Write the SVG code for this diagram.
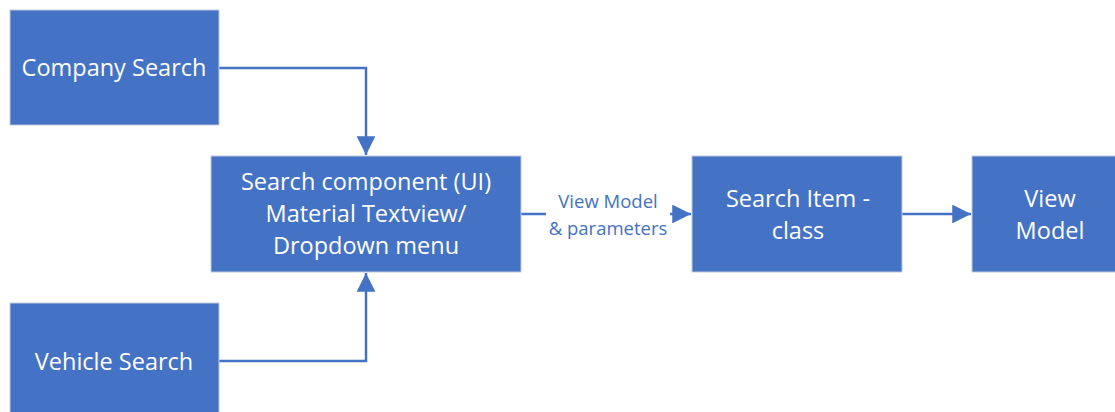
<svg xmlns="http://www.w3.org/2000/svg" width="1115" height="412" viewBox="0 0 1115 412">
  <style>
    .box { fill: #4472C4; stroke: #BFC9DC; stroke-width: 1; }
    .txt { fill: #FFFFFF; font-family: "Open Sans", "Noto Sans", sans-serif; font-size: 23.5px; text-anchor: middle; }
    .lbl { fill: #4472C4; font-family: "Open Sans", "Noto Sans", sans-serif; font-size: 18.5px; text-anchor: middle; }
    .wire { fill: none; stroke: #4472C4; stroke-width: 2.5; }
  </style>
  <defs>
    <marker id="arrow" viewBox="0 0 10 10" refX="10" refY="5" markerWidth="7.5" markerHeight="7.5" markerUnits="strokeWidth" orient="auto">
      <path d="M0,0 L10,5 L0,10 Z" fill="#4472C4"/>
    </marker>
  </defs>

  <g id="connectors">
    <path class="wire" d="M219,68 H366 V155" marker-end="url(#arrow)"/>
    <path class="wire" d="M219,361 H366 V273" marker-end="url(#arrow)"/>
    <path class="wire" d="M521,214 H546"/>
    <path class="wire" d="M670,214 H691" marker-end="url(#arrow)"/>
    <path class="wire" d="M902,214 H971" marker-end="url(#arrow)"/>
    <text class="lbl" x="608" y="208">View Model</text>
    <text class="lbl" x="608" y="235">&amp; parameters</text>
  </g>

  <g id="company-search">
    <rect class="box" x="10" y="10" width="209" height="115"/>
    <text class="txt" x="114" y="76">Company Search</text>
  </g>

  <g id="vehicle-search">
    <rect class="box" x="10" y="303" width="209" height="115"/>
    <text class="txt" x="114" y="370">Vehicle Search</text>
  </g>

  <g id="search-component">
    <rect class="box" x="211" y="156" width="310" height="116"/>
    <text class="txt" x="366" y="190">Search component (UI)</text>
    <text class="txt" x="366" y="222">Material Textview/</text>
    <text class="txt" x="366" y="254">Dropdown menu</text>
  </g>

  <g id="search-item">
    <rect class="box" x="692" y="156" width="210" height="116"/>
    <text class="txt" x="798" y="207">Search Item -</text>
    <text class="txt" x="798" y="239">class</text>
  </g>

  <g id="view-model">
    <rect class="box" x="972" y="156" width="150" height="116"/>
    <text class="txt" x="1050" y="207">View</text>
    <text class="txt" x="1050" y="239">Model</text>
  </g>
</svg>
